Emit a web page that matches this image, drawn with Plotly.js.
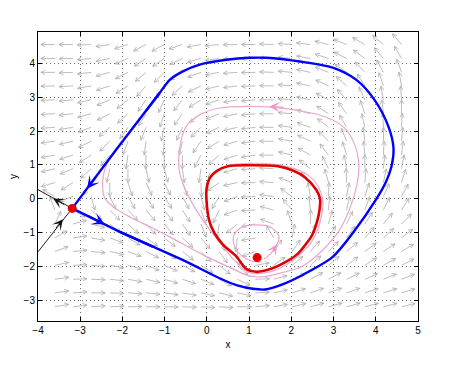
<!DOCTYPE html>
<html>
<head>
<meta charset="utf-8">
<script src="https://cdn.plot.ly/plotly-3.0.1.min.js"></script>
<style>html,body{margin:0;padding:0;background:#fff;}#chart{width:461px;height:370px;}</style>
</head>
<body>
<div id="chart"></div>
<script>
// ---------- data ----------
const xTicks = [-4, -3, -2, -1, 0, 1, 2, 3, 4, 5];
const yTicks = [-3, -2, -1, 0, 1, 2, 3, 4];

// direction field grid (arrow tails) and arrow directions (degrees, 0 = right, 90 = up)
const gridX = [-3.6,-3.17,-2.74,-2.30,-1.87,-1.44,-1.01,-0.58,-0.14,0.29,0.72,1.15,1.58,2.02,2.45,2.88,3.31,3.74,4.18,4.61];
const gridY = [-3.18,-2.77,-2.37,-1.96,-1.55,-1.15,-0.74,-0.33,0.07,0.48,0.89,1.29,1.70,2.11,2.51,2.92,3.33,3.73,4.14,4.55];
const arrowAngles = [
  [10,7,4,2,1,0,359,358,357,357,0,5,10,13,15,15,15,14,14,13],
  [8,4,0,358,356,354,352,350,348,346,348,3,12,17,19,20,19,18,17,16],
  [8,2,358,354,350,347,344,342,338,332,335,2,15,25,28,28,26,24,22,21],
  [12,3,356,350,345,340,337,333,328,322,318,10,35,40,42,40,36,32,29,27],
  [20,5,355,347,340,333,328,322,315,305,280,200,55,55,48,45,40,36,33,31],
  [30,8,350,340,330,325,322,318,310,295,265,190,120,80,70,60,55,48,42,38],
  [65,15,345,322,317,313,310,305,292,262,220,190,160,110,88,75,65,57,50,45],
  [110,330,318,315,313,310,308,303,290,245,200,182,165,130,95,85,78,70,64,58],
  [150,200,285,295,300,302,302,298,285,240,200,182,172,145,100,88,80,72,66,62],
  [196,212,239,270,288,294,296,290,272,215,192,181,176,160,130,105,93,85,78,73],
  [193,202,222,258,270,282,285,278,262,218,195,183,177,165,142,116,100,90,84,80],
  [190,197,212,230,262,268,270,270,242,222,198,188,180,167,150,127,107,95,87,83],
  [187,193,206,225,250,262,266,258,235,212,196,187,180,170,155,134,112,97,89,85],
  [184,189,200,220,235,248,258,246,225,205,193,186,180,173,161,142,120,102,92,87],
  [183,186,195,207,222,238,252,234,218,202,192,185,180,175,165,147,126,108,96,90],
  [182,185,192,203,218,235,246,232,212,198,190,184,180,176,168,152,132,114,100,94],
  [181,183,190,198,212,228,236,222,206,194,187,182,179,175,168,155,138,122,108,100],
  [180,182,187,195,207,220,225,212,200,190,184,181,178,175,168,158,145,132,118,110],
  [180,181,185,192,203,213,214,205,195,188,182,180,178,175,170,162,153,143,130,120],
  [180,180,182,188,197,207,208,198,190,185,181,180,178,176,173,166,158,150,140,130]
];

// homoclinic orbit (blue): two straight branches at the saddle plus the curved part
const blueOutX = [-3.19,-2.06,-1.28];          const blueOutY = [-0.28,-0.97,-1.41];
const blueInX  = [-3.19,-2.15,-1.12];          const blueInY  = [-0.28,1.45,3.12];
const blueLoopX = [-2.06,-1.28,-0.49,0.30,0.70,1.09,1.38,1.79,2.30,2.98,3.46,4.00,4.24,4.37,4.42,4.30,3.97,3.54,2.98,2.20,1.41,1.01,0.46,-0.17,-0.57,-0.88,-1.12,-1.45];
const blueLoopY = [-0.97,-1.41,-1.85,-2.34,-2.54,-2.65,-2.67,-2.52,-2.22,-1.71,-1.00,-0.03,0.50,0.95,1.50,2.13,2.92,3.51,3.87,4.05,4.16,4.16,4.10,3.96,3.76,3.51,3.12,2.58];

// limit cycle (red)
const redX = [-0.01,0.07,0.23,0.50,1.01,1.68,2.05,2.32,2.59,2.68,2.67,2.62,2.50,2.36,2.15,1.88,1.50,1.17,0.94,0.70,0.38,0.18,0.05,-0.01];
const redY = [0.27,0.62,0.82,0.96,0.99,0.96,0.83,0.64,0.27,0.00,-0.30,-0.62,-1.05,-1.31,-1.62,-1.85,-2.07,-2.15,-2.07,-1.70,-1.35,-1.01,-0.62,0.27];

// outer trajectory spiralling onto the cycle (pink)
const pinkOutX = [-2.19,-2.36,-2.45,-2.47,-2.42,-2.20,-1.80,-1.30,-0.88,-0.09,0.54,1.00,1.30,1.80,2.27,2.75,3.14,3.38,3.55,3.60,3.50,3.25,2.80,2.20,1.60,1.01,0.30,-0.17,-0.49,-0.65,-0.65,-0.50,-0.25,0.06,0.35,0.68,1.00,1.50,1.90,2.20,2.45,2.62,2.73,2.74,2.64,2.40,2.05,1.60,1.10,0.60,0.25];
const pinkOutY = [1.37,1.05,0.70,0.36,0.03,-0.25,-0.55,-0.85,-1.12,-1.65,-2.02,-2.27,-2.30,-2.17,-1.98,-1.50,-0.92,-0.30,0.40,1.00,1.60,2.10,2.42,2.60,2.70,2.73,2.68,2.48,2.14,1.45,0.80,0.25,-0.33,-0.90,-1.35,-1.85,-2.17,-2.15,-1.93,-1.64,-1.32,-0.92,-0.40,0.00,0.36,0.70,0.90,1.02,1.05,1.01,0.85];

// trajectory leaving the focus (pink)
const pinkInX = [1.35,1.52,1.64,1.71,1.49,1.09,0.78,0.63,0.66,0.80,1.05,1.30];
const pinkInY = [-1.78,-1.60,-1.38,-1.11,-0.82,-0.77,-0.87,-1.11,-1.41,-1.65,-1.83,-1.86];

// saddle separatrices outside the loop (black)
const sepUpX = [-4.0,-3.19];  const sepUpY = [0.27,-0.28];
const sepLoX = [-4.0,-3.19];  const sepLoY = [-1.56,-0.28];

// equilibria
const eqX = [-3.19, 1.19];
const eqY = [-0.28, -1.73];

// direction arrows on the curves: [tipX, tipY, tailX, tailY]
const blueArrows = [[-2.84,0.30,-2.60,0.69],[-2.42,-0.75,-2.85,-0.48]];
const blackArrows = [[-3.64,0.01,-3.35,-0.19],[-3.41,-0.60,-3.60,-0.90]];
const pinkArrows = [[1.48,2.72,1.85,2.70],[1.66,-1.34,1.54,-1.58]];

// ---------- drawing ----------
const W = 461, H = 370;
const margin = {l: 38, r: 43, t: 32, b: 49, pad: 0};
const xRange = [-4, 5], yRange = [-3.6, 4.92];
const pxX = (W - margin.l - margin.r) / (xRange[1] - xRange[0]);
const pxY = (H - margin.t - margin.b) / (yRange[1] - yRange[0]);

const qx = [], qy = [];
const L = 14, HL = 4.8, HA = 27 * Math.PI / 180;
for (let j = 0; j < gridY.length; j++) {
  for (let i = 0; i < gridX.length; i++) {
    const a = arrowAngles[j][i] * Math.PI / 180;
    const x0 = gridX[i], y0 = gridY[j];
    const x1 = x0 + L * Math.cos(a) / pxX, y1 = y0 + L * Math.sin(a) / pxY;
    const b1 = a + Math.PI - HA, b2 = a + Math.PI + HA;
    qx.push(x0, x1, x1 + HL * Math.cos(b1) / pxX, null, x1, x1 + HL * Math.cos(b2) / pxX, null);
    qy.push(y0, y1, y1 + HL * Math.sin(b1) / pxY, null, y1, y1 + HL * Math.sin(b2) / pxY, null);
  }
}

const BLUE = 'rgb(0,0,255)', PINK = 'rgb(236,166,206)';
const traces = [
  {x: qx, y: qy, mode: 'lines', line: {color: 'rgb(172,172,172)', width: 0.8}, hoverinfo: 'skip'},
  {x: pinkOutX, y: pinkOutY, mode: 'lines', line: {color: PINK, width: 1.2, shape: 'spline', smoothing: 1}},
  {x: pinkInX, y: pinkInY, mode: 'lines', line: {color: PINK, width: 1.2, shape: 'spline', smoothing: 1}},
  {x: redX, y: redY, mode: 'lines', line: {color: 'rgb(224,0,0)', width: 2.6, shape: 'spline', smoothing: 0.9}},
  {x: blueLoopX, y: blueLoopY, mode: 'lines', line: {color: BLUE, width: 2.4, shape: 'spline', smoothing: 0.8}},
  {x: blueOutX, y: blueOutY, mode: 'lines', line: {color: BLUE, width: 2.4}},
  {x: blueInX, y: blueInY, mode: 'lines', line: {color: BLUE, width: 2.4}},
  {x: sepUpX, y: sepUpY, mode: 'lines', line: {color: 'rgb(30,30,30)', width: 1}},
  {x: sepLoX, y: sepLoY, mode: 'lines', line: {color: 'rgb(30,30,30)', width: 1}},
  {x: eqX, y: eqY, mode: 'markers', marker: {color: 'rgb(230,0,0)', size: 9}}
];

function arrowAnn(a, color, w, s) {
  return {x: a[0], y: a[1], ax: a[2], ay: a[3], xref: 'x', yref: 'y', axref: 'x', ayref: 'y',
          text: '', showarrow: true, arrowhead: 3, arrowcolor: color, arrowwidth: w, arrowsize: s};
}
const annotations = []
  .concat(blueArrows.map(a => arrowAnn(a, BLUE, 2, 1.05)))
  .concat(blackArrows.map(a => arrowAnn(a, 'rgb(20,20,20)', 1, 1.8)))
  .concat(pinkArrows.map(a => arrowAnn(a, 'rgb(236,150,200)', 1.2, 1.5)));

const FONT = 'Liberation Sans, Arial, sans-serif';
const axisBase = {
  showline: true, mirror: 'ticks', linecolor: '#000', linewidth: 1,
  ticks: 'inside', ticklen: 4, tickcolor: '#000', tickwidth: 1,
  showgrid: true, gridcolor: 'rgb(110,110,110)', gridwidth: 1, griddash: '1px,3px',
  zeroline: false, tickfont: {family: FONT, size: 10, color: '#000'}
};
const fmt = v => v < 0 ? '\u2212' + (-v) : String(v);

const layout = {
  width: W, height: H, margin: margin, showlegend: false,
  paper_bgcolor: '#fff', plot_bgcolor: '#fff',
  xaxis: Object.assign({}, axisBase, {range: xRange, tickvals: xTicks, ticktext: xTicks.map(fmt),
    title: {text: 'x', font: {family: FONT, size: 10, color: '#000'}, standoff: 5}}),
  yaxis: Object.assign({}, axisBase, {range: yRange, tickvals: yTicks, ticktext: yTicks.map(fmt),
    title: {text: 'y', font: {family: FONT, size: 10, color: '#000'}, standoff: 4}}),
  annotations: annotations
};

Plotly.newPlot('chart', traces, layout, {displayModeBar: false, staticPlot: true});
</script>
</body>
</html>
